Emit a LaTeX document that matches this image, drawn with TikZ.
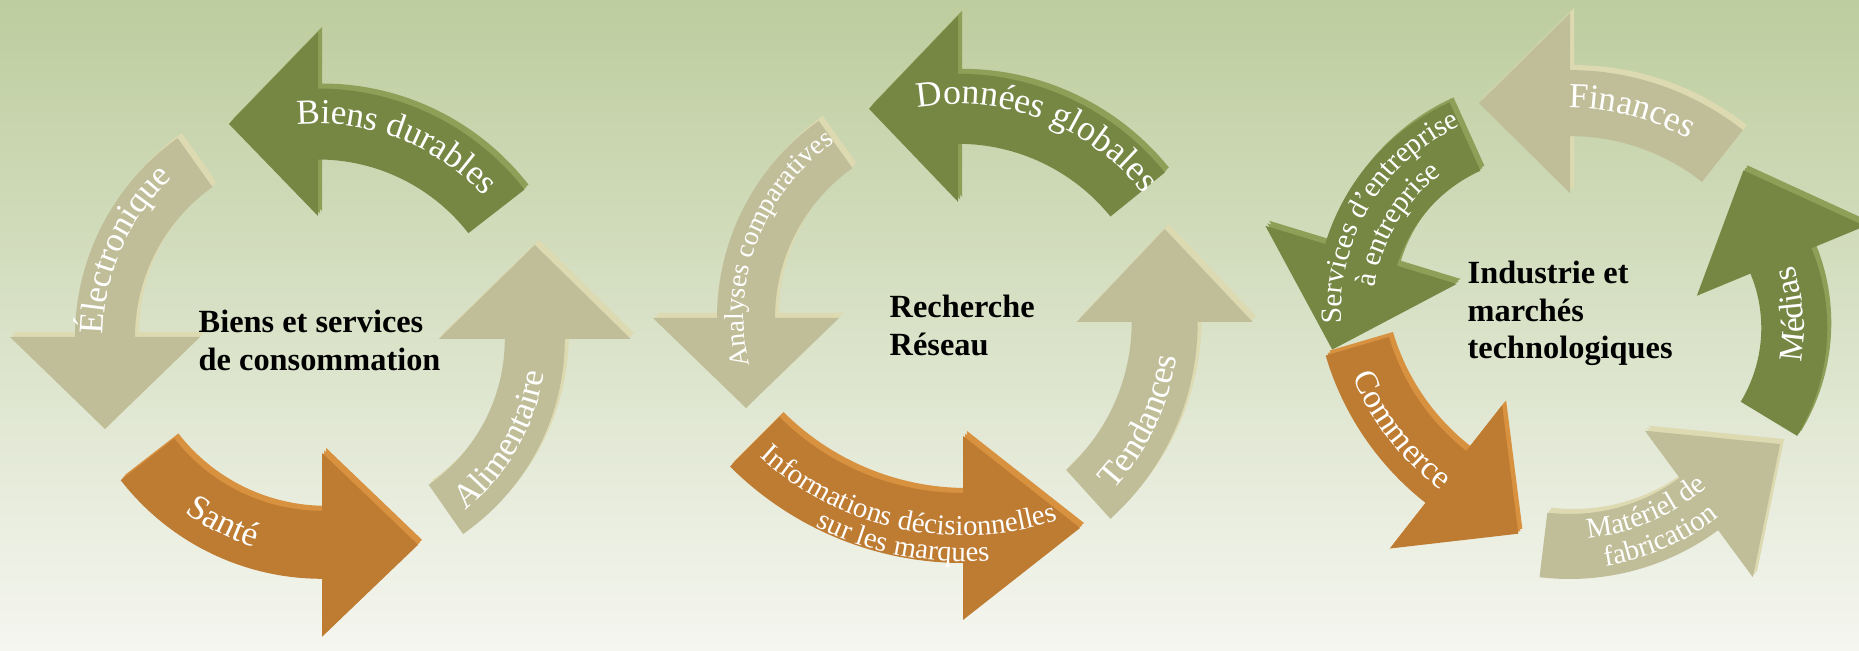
\documentclass[tikz,border=0pt]{standalone}
\usepackage{fontspec}
\setmainfont{Liberation Serif}
\usetikzlibrary{decorations.text}
\definecolor{grn}{HTML}{768744}
\definecolor{grnside}{HTML}{8E9F58}
\definecolor{bge}{HTML}{C0BE98}
\definecolor{bgeside}{HTML}{DDD9B0}
\definecolor{org}{HTML}{BE7B32}
\definecolor{orgside}{HTML}{D8913F}
\definecolor{bgtop}{HTML}{BDCD9E}
\definecolor{bgbot}{HTML}{F5F6F0}
% #1 R, #2 shaft width, #3 tail angle, #4 head-base angle, #5 head half-width, #6 head length, #7 options
\newcommand\arrfill[7]{\fill[#7] (#3:{#1+#2/2}) arc[start angle=#3,end angle=#4,radius={#1+#2/2}]
  -- (#4:{#1+#5}) -- ({#1*cos(#4)-#6*sin(#4)},{#1*sin(#4)+#6*cos(#4)}) -- (#4:{#1-#5})
  -- (#4:{#1-#2/2}) arc[start angle=#4,end angle=#3,radius={#1-#2/2}] -- cycle;}
% #1 cx, #2 cy, #3 R, #4 w, #5 a, #6 b, #7 hw, #8 L, #9 colour
\newcommand\cyarrow[9]{%
  \arrfill{#3}{#4}{#5}{#6}{#7}{#8}{shift={({#1+4},{#2+5})},fill=#9side}%
  \arrfill{#3}{#4}{#5}{#6}{#7}{#8}{shift={({#1+2},{#2+2.5})},fill=#9side}%
  \arrfill{#3}{#4}{#5}{#6}{#7}{#8}{shift={(#1,#2)},fill=#9}}
% #1 cx, #2 cy, #3 r, #4 a1, #5 a2, #6 size, #7 text
\newcommand\arclabel[7]{\path[shift={(#1,#2)},decorate,decoration={text along path,text align=center,
  text={|\fontsize{#6}{#6}\selectfont\color{white}|#7}}] (#4:#3) arc[start angle=#4,end angle=#5,radius=#3];}
\tikzset{centertext/.style={font=\bfseries\fontsize{9.2}{10.6}\selectfont, align=left, anchor=west, inner sep=0pt, text=black}}
\begin{document}
\begin{tikzpicture}[x=0.01cm,y=0.01cm]
\useasboundingbox (0,0) rectangle (1859,651);
\shade[top color=bgtop, bottom color=bgbot] (0,0) rectangle (1859,651);
% ---- cycle 1
\cyarrow{318}{301.2}{225.8}{71}{37.8}{90}{92}{89}{grn}
\cyarrow{319}{314}{214}{60}{125.4}{180}{95}{92}{bge}
\cyarrow{322}{327}{220.8}{68}{217.8}{270}{92}{96}{org}
\cyarrow{327}{312}{207.8}{60}{304.9}{360}{96}{94}{bge}
\arclabel{318}{301.2}{226}{114}{24}{10}{Biens durables}
\arclabel{319}{314}{216}{201}{111}{9.8}{Électronique}
\arclabel{322}{327}{233}{203.5}{283.5}{10}{Santé}
\arclabel{327}{312}{220}{-75}{15}{9.7}{Alimentaire}
\node[centertext] (c1) at (198,310.5) {Biens et services\\de consommation};
% ---- cycle 2
\cyarrow{958}{311}{231.2}{70}{39}{90}{93}{89}{grn}
\cyarrow{958.9}{333}{212.9}{58}{125.4}{180}{93}{90}{bge}
\cyarrow{963}{417.5}{294.5}{70}{225}{270}{92}{117}{org}
\cyarrow{932}{329}{232.7}{66}{312.2}{360}{88}{93}{bge}
\arclabel{958}{311}{236}{114}{24}{10.2}{Données globales}
\arclabel{958.9}{333}{215}{215}{103}{7.8}{Analyses comparatives}
\arclabel{963}{417.5}{302}{218}{298}{8.2}{Informations décisionnelles}
\arclabel{963}{417.5}{328}{219}{299}{8.2}{sur les marques}
\arclabel{932}{329}{247}{-70}{19}{10}{Tendances}
\node[centertext] (c2) at (889,325.5) {Recherche\\Réseau};
% ---- cycle 3
\cyarrow{1570}{302}{245.9}{66}{51.7}{90}{90}{91}{bge}
\cyarrow{1543.4}{340.7}{190.6}{75}{114.3}{163.1}{100}{99}{grn}
\cyarrow{1605.7}{377.8}{258.9}{66}{196.4}{231.9}{91}{92}{org}
\cyarrow{1569.6}{322.3}{217.8}{65}{263.1}{306.4}{91}{101}{bge}
\cyarrow{1619}{323}{175.3}{66}{-31.2}{22.5}{91}{98}{grn}
\arclabel{1570}{302}{241}{115}{36}{10}{Finances}
\arclabel{1543.4}{340.7}{202}{200}{98}{8.3}{Services d'entreprise}
\arclabel{1543.4}{340.7}{170}{200}{99}{8.3}{à entreprise}
\arclabel{1605.7}{377.8}{273}{175}{260}{9.5}{Commerce}
\arclabel{1569.6}{322.3}{210}{250}{336}{8.2}{Matériel de}
\arclabel{1569.6}{322.3}{240}{250}{337}{8.2}{fabrication}
\arclabel{1619}{323}{185}{-40}{49}{9.5}{Médias}
\node[centertext] (c3) at (1467,337.5) {Industrie et\\marchés\\technologiques};
\end{tikzpicture}
\end{document}
